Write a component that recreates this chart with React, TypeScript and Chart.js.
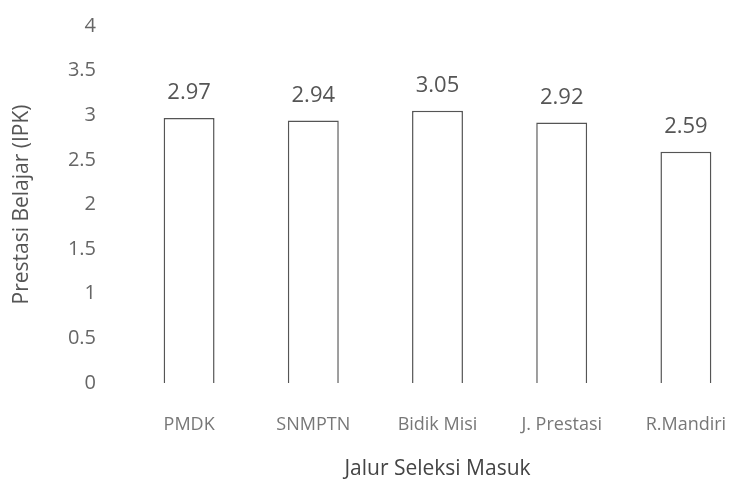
import React, { useEffect, useRef } from "react";
import { Chart, registerables } from "chart.js";

Chart.register(...registerables);

const categories = ["PMDK", "SNMPTN", "Bidik Misi", "J. Prestasi", "R.Mandiri"];
const ipkValues = [2.97, 2.94, 3.05, 2.92, 2.59];
const yTicks = [0, 0.5, 1, 1.5, 2, 2.5, 3, 3.5, 4];

const FONT = "'Open Sans', 'DejaVu Sans', sans-serif";

const valueLabels = {
  id: "valueLabels",
  afterDatasetsDraw(chart: any) {
    const ctx = chart.ctx;
    const meta = chart.getDatasetMeta(0);
    ctx.save();
    ctx.font = `22px ${FONT}`;
    ctx.fillStyle = "#555";
    ctx.textAlign = "center";
    ctx.textBaseline = "middle";
    meta.data.forEach((bar: any, i: number) => {
      ctx.fillText(ipkValues[i].toFixed(2), bar.x, bar.y - 25);
    });
    ctx.restore();
  },
};

export default function App() {
  const ref = useRef<HTMLCanvasElement>(null);
  useEffect(() => {
    if (!ref.current) return;
    const chart = new Chart(ref.current, {
      type: "bar",
      data: {
        labels: categories,
        datasets: [
          {
            data: ipkValues,
            backgroundColor: "#ffffff",
            borderColor: "#555",
            borderWidth: 1.5,
            categoryPercentage: 1,
            barPercentage: 0.41,
          },
        ],
      },
      options: {
        responsive: false,
        animation: false,
        layout: { padding: { top: 26, right: 12, left: 0, bottom: 0 } },
        plugins: { legend: { display: false }, tooltip: { enabled: false } },
        scales: {
          x: {
            grid: { display: false, drawTicks: false },
            border: { display: false },
            ticks: { font: { family: FONT, size: 18 }, color: "#777", padding: 31, maxRotation: 0 },
            title: {
              display: true,
              text: "Jalur Seleksi Masuk",
              font: { family: FONT, size: 21 },
              color: "#444",
              padding: { top: 0, bottom: 2 },
            },
            afterFit: (s: any) => { s.height = 101; },
          },
          y: {
            min: 0,
            max: 4,
            afterBuildTicks: (s: any) => { s.ticks = yTicks.map((v) => ({ value: v })); },
            grid: { display: false, drawTicks: false },
            border: { display: false },
            ticks: {
              font: { family: FONT, size: 20 },
              color: "#666",
              padding: 31,
              callback: (v: any) => String(v),
            },
            title: {
              display: true,
              text: "Prestasi Belajar (IPK)",
              font: { family: FONT, size: 21 },
              color: "#555",
              padding: { top: 9, bottom: 0 },
            },
            afterFit: (s: any) => {
              s.width = 127;
              s.paddingTop = 12;
              s.paddingBottom = 0;
            },
          },
        },
      },
      plugins: [valueLabels],
    });
    return () => chart.destroy();
  }, []);
  return (
    <div style={{ position: "fixed", left: 0, top: 0, width: 741, height: 484, overflow: "hidden", background: "#fff" }}>
      <canvas ref={ref} width={760} height={484} style={{ width: 760, height: 484, display: "block" }} />
    </div>
  );
}
